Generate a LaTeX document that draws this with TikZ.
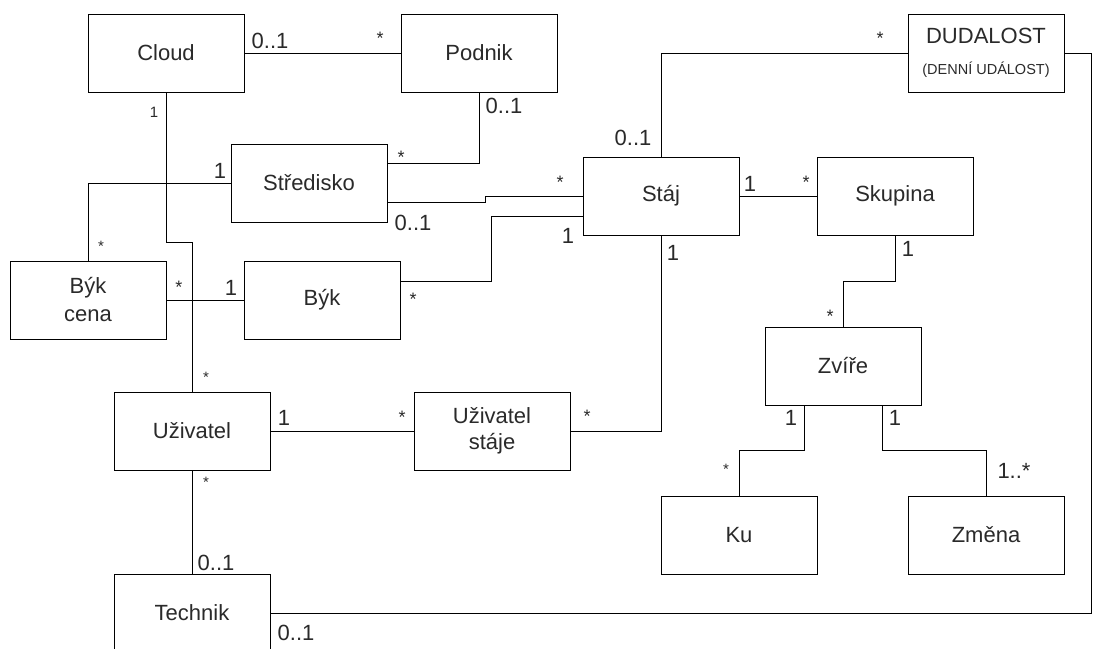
\documentclass[tikz,border=0pt]{standalone}
\usepackage{fontspec}
\setmainfont{Liberation Sans}
\definecolor{ink}{HTML}{2a2a2a}
\begin{document}
\begin{tikzpicture}[x=1pt,y=-1pt,
  box/.style={draw=black, line width=1pt, minimum width=156pt, minimum height=78pt, inner sep=0pt,
    align=center, text=ink, font=\fontsize{22}{28}\selectfont},
  conn/.style={draw=black, line width=1pt},
  lab/.style={inner sep=0pt, anchor=base, text=ink, font=\fontsize{22}{24}\selectfont},
  star/.style={inner sep=0pt, anchor=base, text=ink, font=\fontsize{18}{20}\selectfont},
  slab/.style={inner sep=0pt, anchor=base, text=ink, font=\fontsize{15}{17}\selectfont}]
\useasboundingbox (0,0) rectangle (1100,648);
\fill[white] (0,0) rectangle (1100,648);

% classes
\node[box] (cloud) at (166,53) {Cloud};
\node[box] (podnik) at (479,53) {Podnik};
\node[box] (stred) at (309,183) {Středisko};
\node[box] (staj) at (661,196) {Stáj};
\node[box] (skup) at (895,196) {Skupina};
\node[box, font=\fontsize{22}{30}\selectfont] (dud) at (986,53) {DUDALOST\\[1pt]{\fontsize{14.5}{17}\selectfont (DENNÍ UDÁLOST)}};
\node[box] (bykc) at (88,300) {Býk\\cena};
\node[box] (byk) at (322,300) {Býk};
\node[box] (uziv) at (192,431) {Uživatel};
\node[box, font=\fontsize{22}{26}\selectfont] (uzs) at (492,431) {Uživatel\\stáje};
\node[box] (zvire) at (843,366) {Zvíře};
\node[box] (ku) at (739,535) {Ku};
\node[box] (zmena) at (986,535) {Změna};
\node[box] (tech) at (192,613) {Technik};

\coordinate (corner) at (1091,53);

% connectors
\draw[conn] (cloud.east) -- (podnik.west);
\draw[conn] (cloud.south) -- (cloud.south |- 0,242) -| (uziv.north);
\draw[conn] (stred.west) -| (bykc.north);
\draw[conn] (podnik.south) |- ([yshift=20pt]stred.east);
\draw[conn] ([yshift=-19pt]stred.east) -- ++(98,0) |- (staj.west);
\draw[conn] ([yshift=19pt]byk.east) -- ++(91,0) |- ([yshift=-20pt]staj.west);
\draw[conn] (bykc.east) -- (byk.west);
\draw[conn] (staj.north) |- (dud.west);
\draw[conn] (staj.east) -- (skup.west);
\draw[conn] (staj.south) |- (uzs.east);
\draw[conn] (uziv.east) -- (uzs.west);
\draw[conn] (uziv.south) -- (tech.north);
\draw[conn] (skup.south) -- ++(0,46) -| (zvire.north);
\draw[conn] ([xshift=-39pt]zvire.south) -- ++(0,45) -| (ku.north);
\draw[conn] ([xshift=39pt]zvire.south) -- ++(0,45) -| (zmena.north);
\draw[conn] (dud.east) -- (corner) |- (tech.east);

% multiplicities
\node[lab] (m1) at (270,48) {0..1};
\node[star] (m2) at (380,44) {*};
\node[slab] (m3) at (154,117) {1};
\node[lab] (m4) at (220,178) {1};
\node[slab] (m5) at (101,251) {*};
\node[star] (m6) at (401,163) {*};
\node[lab] (m7) at (504,113) {0..1};
\node[lab] (m8) at (413,230) {0..1};
\node[star] (m9) at (560,188) {*};
\node[lab] (m10) at (568,243) {1};
\node[star] (m11) at (413,305) {*};
\node[lab] (m12) at (633,145) {0..1};
\node[lab] (m13) at (673,260) {1};
\node[star] (m14) at (880,44) {*};
\node[lab] (m15) at (750,191) {1};
\node[star] (m16) at (806,188) {*};
\node[lab] (m17) at (908,256) {1};
\node[star] (m18) at (830,322) {*};
\node[lab] (m19) at (791,425) {1};
\node[lab] (m20) at (895,425) {1};
\node[slab] (m21) at (726,474) {*};
\node[lab] (m22) at (1014,478) {1..*};
\node[star] (m23) at (179,293) {*};
\node[lab] (m24) at (231,295) {1};
\node[slab] (m25) at (206,382) {*};
\node[lab] (m26) at (284,425) {1};
\node[star] (m27) at (402,423) {*};
\node[star] (m28) at (587,422) {*};
\node[slab] (m29) at (206,487) {*};
\node[lab] (m30) at (216,570) {0..1};
\node[lab] (m31) at (296,640) {0..1};
\end{tikzpicture}
\end{document}
